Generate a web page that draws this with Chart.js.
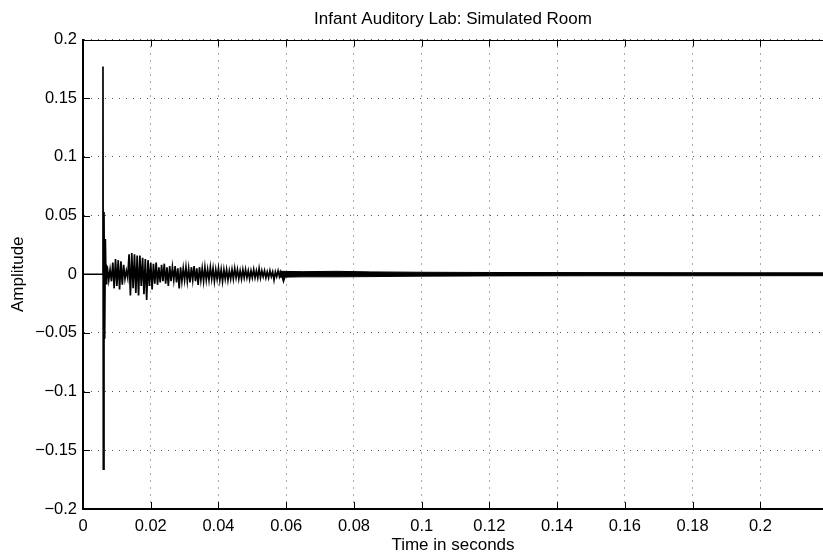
<!DOCTYPE html>
<html>
<head>
<meta charset="utf-8">
<title>Infant Auditory Lab: Simulated Room</title>
<script src="https://cdn.jsdelivr.net/npm/chart.js@4.4.0/dist/chart.umd.min.js"></script>
<style>
  html, body { margin: 0; padding: 0; background: #fff; }
  canvas { display: block; }
</style>
</head>
<body>
<canvas id="chart" width="823" height="554"></canvas>
<script>
// Impulse response samples (seconds, amplitude)
var waveTimes = [
  0, 0.0057, 0.0059, 0.0060, 0.0062, 0.0064, 0.0066, 0.0068, 0.0070,
  0.0072, 0.0076, 0.0080, 0.0084, 0.0088, 0.0092, 0.0096, 0.0100, 0.0104, 0.0108,
  0.0112, 0.0116, 0.0120, 0.0124, 0.0128, 0.0132, 0.0136, 0.0140, 0.0144, 0.0148,
  0.0152, 0.0156, 0.0160, 0.0164, 0.0168, 0.0172, 0.0176, 0.0180, 0.0184, 0.0188,
  0.0192, 0.0196, 0.0200, 0.0204, 0.0208, 0.0212, 0.0216, 0.0220, 0.0224, 0.0228,
  0.0232, 0.0236, 0.0240, 0.0244, 0.0248, 0.0252, 0.0256, 0.0260, 0.0264, 0.0268,
  0.0272, 0.0276, 0.0280, 0.0284, 0.0288, 0.0292, 0.0296, 0.0300, 0.0304, 0.0308,
  0.0312, 0.0316, 0.0320, 0.0324, 0.0328, 0.0332, 0.0336, 0.0340, 0.0344, 0.0348,
  0.0352, 0.0356, 0.0360, 0.0364, 0.0368, 0.0372, 0.0376, 0.0380, 0.0384, 0.0388,
  0.0392, 0.0396, 0.0400, 0.0404, 0.0408, 0.0412, 0.0416, 0.0420, 0.0424, 0.0428,
  0.0432, 0.0436, 0.0440, 0.0444, 0.0448, 0.0452, 0.0456, 0.0460, 0.0464, 0.0468,
  0.0472, 0.0476, 0.0480, 0.0484, 0.0488, 0.0492, 0.0496, 0.0500, 0.0504, 0.0508,
  0.0512, 0.0516, 0.0520, 0.0524, 0.0528, 0.0532, 0.0536, 0.0540, 0.0544, 0.0548,
  0.0552, 0.0556, 0.0560, 0.0564, 0.0568, 0.0572, 0.0576, 0.0580, 0.0584, 0.0588,
  0.0592, 0.0596, 0.0600
];
var waveAmps = [
  0, 0, 0.177, -0.166, 0.053, -0.055, 0.030, -0.008, 0.007,
  0.006, -0.005, 0.004, -0.006, 0.010, -0.012, 0.013, -0.010, 0.012, -0.013,
  0.011, -0.009, 0.008, -0.004, 0.003, -0.003, 0.017, -0.018, 0.018, -0.012,
  0.017, -0.016, 0.016, -0.018, 0.016, -0.010, 0.014, -0.017, 0.013, -0.022,
  0.012, -0.010, 0.010, -0.013, 0.009, -0.008, 0.010, -0.009, 0.006, -0.007,
  0.008, -0.006, 0.009, -0.008, 0.006, -0.010, 0.007, -0.006, 0.006, -0.005,
  0.007, -0.007, 0.005, -0.012, 0.006, -0.006, 0.005, -0.005, 0.006, -0.006,
  0.005, -0.007, 0.006, -0.005, 0.007, -0.006, 0.005, -0.009, 0.006, -0.005,
  0.005, -0.006, 0.006, -0.005, 0.004, -0.005, 0.006, -0.004, 0.005, -0.006,
  0.004, -0.004, 0.005, -0.005, 0.004, -0.006, 0.004, -0.004, 0.004, -0.005,
  0.003, -0.004, 0.004, -0.004, 0.005, -0.003, 0.004, -0.004, 0.003, -0.004,
  0.004, -0.003, 0.004, -0.003, 0.003, -0.004, 0.003, -0.003, 0.004, -0.003,
  0.003, -0.003, 0.005, -0.003, 0.003, -0.002, 0.003, -0.003, 0.002, -0.003,
  0.003, -0.002, 0.002, -0.005, 0.002, -0.002, 0.003, -0.002, 0.002, -0.002,
  -0.006, -0.002, 0.002
];

// Late reverberant tail: envelope of the dense noise band
var tailTimes = [0.058, 0.065, 0.075, 0.085, 0.100, 0.120, 0.150, 0.180, 0.2185];
var tailUpper = [0.0025, 0.0022, 0.0025, 0.0020, 0.0017, 0.0015, 0.0014, 0.0013, 0.0012];
var tailLower = [-0.0025, -0.0022, -0.0022, -0.0020, -0.0016, -0.0014, -0.0013, -0.0013, -0.0012];

var xTicks = [0, 0.02, 0.04, 0.06, 0.08, 0.1, 0.12, 0.14, 0.16, 0.18, 0.2];
var xTickLabels = ["0", "0.02", "0.04", "0.06", "0.08", "0.1", "0.12", "0.14", "0.16", "0.18", "0.2"];
var yTicks = [-0.2, -0.15, -0.1, -0.05, 0, 0.05, 0.1, 0.15, 0.2];
var yTickLabels = ["\u22120.2", "\u22120.15", "\u22120.1", "\u22120.05", "0", "0.05", "0.1", "0.15", "0.2"];

var FONT = "'Liberation Sans', Arial, Helvetica, sans-serif";

function pairs(xs, ys) {
  return xs.map(function (x, i) { return { x: x, y: ys[i] }; });
}

// inward tick marks and top edge of the axes box, MATLAB style
var frameTicks = {
  id: "frameTicks",
  afterDatasetsDraw: function (chart) {
    var ctx = chart.ctx, a = chart.chartArea;
    var xs = chart.scales.x, ys = chart.scales.y;
    ctx.save();
    ctx.strokeStyle = "#000";
    ctx.lineWidth = 1;
    ctx.beginPath();
    xs.ticks.forEach(function (t) {
      var px = Math.round(xs.getPixelForValue(t.value)) + 0.5;
      ctx.moveTo(px, a.bottom); ctx.lineTo(px, a.bottom - 7);
      ctx.moveTo(px, a.top); ctx.lineTo(px, a.top + 7);
    });
    ys.ticks.forEach(function (t) {
      var py = Math.round(ys.getPixelForValue(t.value)) + 0.5;
      ctx.moveTo(a.left, py); ctx.lineTo(a.left + 7, py);
    });
    ctx.moveTo(a.left, Math.round(a.top) + 0.5);
    ctx.lineTo(a.right, Math.round(a.top) + 0.5);
    ctx.stroke();
    ctx.restore();
  }
};

new Chart(document.getElementById("chart"), {
  type: "line",
  data: {
    datasets: [
      {
        label: "Impulse response",
        data: pairs(waveTimes, waveAmps),
        borderColor: "#000",
        borderWidth: 1.7,
        pointRadius: 0,
        tension: 0,
      },
      {
        label: "Tail upper",
        data: pairs(tailTimes, tailUpper),
        borderColor: "#000",
        backgroundColor: "#000",
        borderWidth: 1,
        pointRadius: 0,
        fill: "+1",
      },
      {
        label: "Tail lower",
        data: pairs(tailTimes, tailLower),
        borderColor: "#000",
        borderWidth: 1,
        pointRadius: 0,
        fill: false,
      },
    ],
  },
  options: {
    responsive: false,
    animation: false,
    devicePixelRatio: 1,
    layout: { padding: 0 },
    plugins: {
      legend: { display: false },
      tooltip: { enabled: false },
      title: {
        display: true,
        text: "Infant Auditory Lab: Simulated Room",
        color: "#000",
        fullSize: false,
        font: { family: FONT, size: 17, weight: "normal" },
        padding: { top: 9.5, bottom: 9.6 },
      },
    },
    scales: {
      x: {
        type: "linear",
        min: 0,
        max: 0.2185,
        afterBuildTicks: function (s) { s.ticks = xTicks.map(function (v) { return { value: v }; }); },
        afterFit: function (s) { s.height = 45; },
        ticks: {
          color: "#000",
          padding: 8,
          maxRotation: 0,
          autoSkip: false,
          font: { family: FONT, size: 16.5 },
          callback: function (v, i) { return xTickLabels[i]; },
        },
        grid: { color: "#555", lineWidth: 1, drawTicks: false },
        border: { display: true, color: "#000", width: 2, dash: [1, 6] },
        title: {
          display: true,
          text: "Time in seconds",
          color: "#000",
          font: { family: FONT, size: 17 },
          padding: { top: 0, bottom: -2 },
        },
      },
      y: {
        type: "linear",
        min: -0.2,
        max: 0.2,
        afterBuildTicks: function (s) { s.ticks = yTicks.map(function (v) { return { value: v }; }); },
        afterFit: function (s) { s.width = 83; },
        ticks: {
          color: "#000",
          padding: 6,
          autoSkip: false,
          font: { family: FONT, size: 16.5 },
          callback: function (v, i) { return yTickLabels[i]; },
        },
        grid: { color: "#555", lineWidth: 1, drawTicks: false },
        border: { display: true, color: "#000", width: 2, dash: [1, 6] },
        title: {
          display: true,
          text: "Amplitude",
          color: "#000",
          font: { family: FONT, size: 17 },
          padding: { top: 8, bottom: 0 },
        },
      },
    },
  },
  plugins: [frameTicks],
});
</script>
</body>
</html>
